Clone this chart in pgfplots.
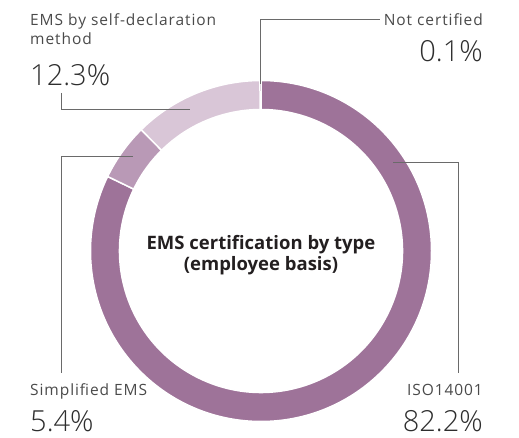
\documentclass[border=0pt]{standalone}
\usepackage{fontspec}
\setmainfont{Open Sans}
\newfontfamily\labfont{Open Sans}[LetterSpace=6]
\newfontfamily\pctfont{Open Sans Light}
\usepackage{pgfplots}
\usepackage{pgfplotstable}
\pgfplotsset{compat=1.18}

\definecolor{isoC}{HTML}{9E7399}
\definecolor{simpC}{HTML}{B999B6}
\definecolor{selfC}{HTML}{D9C6D7}
\definecolor{noneC}{HTML}{E4D8E2}
\definecolor{lineC}{HTML}{6A6A6A}
\definecolor{labC}{HTML}{4A4A4A}
\definecolor{pctC}{HTML}{2E2E2E}
\definecolor{titleC}{HTML}{231F20}

\pgfplotstableread{
label value
ISO14001 82.2
Simplified 5.4
SelfDecl 12.3
NotCert 0.1
}\emsdata

% one ring segment, clockwise from #1 to #2 (degrees)
\newcommand\ringseg[4]{%
  \filldraw[fill=#3, draw=white, line width=#4, shift={(axis cs:261,187)}]
    (#1:170.5pt) arc[start angle=#1, end angle=#2, radius=170.5pt]
    -- (#2:141.5pt) arc[start angle=#2, end angle=#1, radius=141.5pt] -- cycle;}

\tikzset{
  lab/.style={text=labC, font=\labfont\fontsize{15.5}{19}\selectfont, inner sep=0pt},
  pct/.style={text=pctC, font=\pctfont\fontsize{29}{32}\selectfont, inner sep=0pt},
}

\begin{document}
\begin{tikzpicture}
\pgfplotstablegetelem{0}{value}\of\emsdata
\pgfmathsetmacro\aA{90-3.6*\pgfplotsretval}
\pgfplotstablegetelem{1}{value}\of\emsdata
\pgfmathsetmacro\aB{\aA-3.6*\pgfplotsretval}
\pgfplotstablegetelem{2}{value}\of\emsdata
\pgfmathsetmacro\aC{\aB-3.6*\pgfplotsretval}
\pgfplotstablegetelem{3}{value}\of\emsdata
\pgfmathsetmacro\aD{\aC-3.6*\pgfplotsretval}
\begin{axis}[
  x=1pt, y=1pt,
  xmin=0, xmax=519, ymin=0, ymax=438,
  hide axis,
  clip=false,
]
\path (axis cs:0,0) rectangle (axis cs:519,438);

\ringseg{90}{\aA}{isoC}{1.5pt}
\ringseg{\aA}{\aB}{simpC}{1.5pt}
\ringseg{\aB}{\aC}{selfC}{1.5pt}
\ringseg{\aC}{\aD}{noneC}{0pt}

% leader lines
\addplot[lineC, line width=1pt, no marks] coordinates {(260,354) (260,418) (380,418)};
\addplot[lineC, line width=1pt, no marks] coordinates {(61,345) (61,328) (190,328)};
\addplot[lineC, line width=1pt, no marks] coordinates {(133,281) (61,281) (61,65)};
\addplot[lineC, line width=1pt, no marks] coordinates {(393,275) (458,275) (458,65)};

\node[lab, anchor=base west] at (axis cs:30,412) {EMS by self-declaration};
\node[lab, anchor=base west] at (axis cs:30,393) {method};
\node[pct, anchor=base west] at (axis cs:30,352) {12.3\%};

\node[lab, anchor=base east] at (axis cs:483,412) {Not certified};
\node[pct, anchor=base east] at (axis cs:483,376) {0.1\%};

\node[lab, anchor=base west] at (axis cs:30,42) {Simplified EMS};
\node[pct, anchor=base west] at (axis cs:30,6) {5.4\%};

\node[lab, anchor=base east] at (axis cs:483,42) {ISO14001};
\node[pct, anchor=base east] at (axis cs:483,6) {82.2\%};

\node[text=titleC, font=\bfseries\fontsize{18.5}{22}\selectfont, anchor=base, inner sep=0pt] at (axis cs:261,188) {EMS certification by type};
\node[text=titleC, font=\bfseries\fontsize{18.5}{22}\selectfont, anchor=base, inner sep=0pt] at (axis cs:261,167) {(employee basis)};
\end{axis}
\end{tikzpicture}
\end{document}
